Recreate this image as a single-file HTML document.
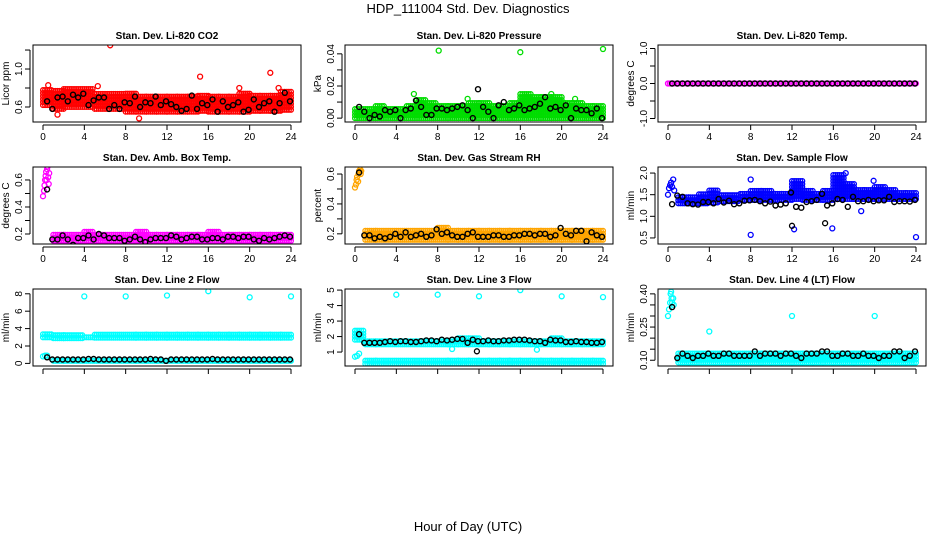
<!DOCTYPE html>
<html><head><meta charset="utf-8">
<style>
html,body{margin:0;padding:0;background:#fff;}
svg{display:block;font-family:"Liberation Sans",Arial,sans-serif;}
</style></head>
<body>
<svg id="chart" width="936" height="540" viewBox="0 0 936 540" xmlns="http://www.w3.org/2000/svg">
<text x="468" y="13" text-anchor="middle" font-size="13">HDP_111004  Std. Dev. Diagnostics</text>
<text x="468" y="531" text-anchor="middle" font-size="13">Hour of Day (UTC)</text>
<g id="plots"></g>
</svg>
<script>
// ---------- data ----------
const xTicks = [0,4,8,12,16,20,24];
const xTickLabels = ["0","4","8","12","16","20","24"];

const co2Lo = [0.62,0.58,0.60,0.60,0.60,0.58,0.58,0.58,0.55,0.55,0.55,0.55,0.55,0.55,0.55,0.56,0.55,0.55,0.55,0.55,0.56,0.56,0.56,0.57];
const co2Hi = [0.78,0.80,0.80,0.80,0.80,0.76,0.76,0.74,0.74,0.72,0.72,0.72,0.72,0.72,0.72,0.72,0.72,0.72,0.72,0.74,0.74,0.74,0.74,0.76];
const co2Black = [0.66,0.58,0.70,0.71,0.66,0.73,0.70,0.74,0.62,0.67,0.70,0.70,0.58,0.62,0.58,0.65,0.64,0.71,0.60,0.65,0.64,0.71,0.62,0.66,0.63,0.60,0.56,0.58,0.72,0.58,0.64,0.62,0.68,0.55,0.66,0.60,0.62,0.65,0.55,0.57,0.68,0.60,0.64,0.66,0.55,0.64,0.75,0.66];
const co2Out = [[6.5,1.25],[15.2,0.92],[22,0.96],[9.3,0.48],[1.4,0.52],[0.5,0.83],[19,0.8],[22.8,0.8],[5.3,0.82]];

const presLo = [0,0,0,0,0,0,0,0,0,0,0,0,0,0,0,0,0,0,0,0,0,0,0,0];
const presHi = [0.007,0.007,0.008,0.007,0.006,0.009,0.012,0.010,0.009,0.008,0.009,0.010,0.010,0.008,0.008,0.010,0.016,0.014,0.014,0.014,0.010,0.010,0.009,0.008];
const presBlack = [0.007,0.004,0.0,0.002,0.001,0.005,0.004,0.005,0.0,0.005,0.006,0.011,0.007,0.002,0.002,0.006,0.006,0.005,0.006,0.007,0.008,0.005,0.0,0.018,0.007,0.004,0.0,0.008,0.010,0.005,0.006,0.008,0.005,0.006,0.007,0.009,0.013,0.006,0.007,0.005,0.008,0.0,0.006,0.005,0.005,0.003,0.006,0.0];
const presOut = [[8.1,0.042],[16,0.041],[24,0.043],[5.7,0.015],[10.9,0.012],[21.3,0.012],[19,0.015]];

const tempLo = [0,0,0,0,0,0,0,0,0,0,0,0,0,0,0,0,0,0,0,0,0,0,0,0];
const tempHi = [0,0,0,0,0,0,0,0,0,0,0,0,0,0,0,0,0,0,0,0,0,0,0,0];
const tempBlack = [0,0,0,0,0,0,0,0,0,0,0,0,0,0,0,0,0,0,0,0,0,0,0,0,0,0,0,0,0,0,0,0,0,0,0,0,0,0,0,0,0,0,0,0,0,0,0,0];
const tempOut = [[0,0],[0.2,0]];

const ambLo = [null,0.15,0.15,0.15,0.15,0.15,0.15,0.15,0.15,0.15,0.15,0.15,0.15,0.15,0.15,0.15,0.15,0.15,0.15,0.15,0.15,0.15,0.15,0.15];
const ambHi = [null,0.21,0.21,0.21,0.22,0.21,0.21,0.21,0.21,0.22,0.21,0.21,0.21,0.21,0.21,0.21,0.22,0.21,0.21,0.21,0.21,0.21,0.21,0.21];
const ambBlack = [0.53,0.16,0.16,0.19,0.16,0.12,0.17,0.17,0.19,0.16,0.20,0.19,0.17,0.17,0.17,0.15,0.16,0.18,0.16,0.14,0.16,0.17,0.17,0.17,0.19,0.18,0.16,0.17,0.18,0.18,0.16,0.16,0.17,0.17,0.16,0.18,0.18,0.17,0.18,0.18,0.16,0.15,0.17,0.16,0.17,0.18,0.19,0.18];
const ambOut = [[0,0.48],[0.1,0.52],[0.15,0.56],[0.2,0.6],[0.25,0.63],[0.3,0.66],[0.35,0.6],[0.4,0.68],[0.45,0.7],[0.5,0.62],[0.55,0.57],[0.6,0.65]];

const rhLo = [null,0.16,0.16,0.16,0.16,0.16,0.16,0.16,0.16,0.16,0.16,0.16,0.16,0.16,0.16,0.16,0.16,0.16,0.16,0.16,0.16,0.16,0.16,0.16];
const rhHi = [null,0.22,0.22,0.23,0.23,0.22,0.22,0.23,0.24,0.23,0.23,0.22,0.22,0.22,0.22,0.22,0.22,0.22,0.22,0.22,0.23,0.23,0.23,0.22];
const rhBlack = [0.61,0.19,0.19,0.17,0.18,0.17,0.18,0.20,0.18,0.21,0.18,0.19,0.20,0.18,0.19,0.23,0.20,0.21,0.19,0.18,0.18,0.20,0.21,0.18,0.18,0.18,0.19,0.19,0.18,0.18,0.19,0.19,0.20,0.20,0.19,0.20,0.20,0.18,0.19,0.24,0.20,0.19,0.22,0.22,0.15,0.21,0.19,0.18];
const rhOut = [[0,0.51],[0.1,0.53],[0.15,0.56],[0.2,0.58],[0.3,0.55],[0.35,0.6],[0.4,0.62],[0.5,0.63],[0.55,0.6],[0.6,0.62]];

const flowLo = [null,1.30,1.30,1.30,1.32,1.35,1.35,1.38,1.38,1.38,1.38,1.38,1.40,1.38,1.38,1.38,1.40,1.40,1.40,1.40,1.40,1.40,1.40,1.40];
const flowHi = [null,1.50,1.50,1.55,1.60,1.55,1.55,1.55,1.60,1.60,1.55,1.58,1.85,1.65,1.55,1.60,2.00,1.80,1.65,1.65,1.70,1.65,1.58,1.55];
const flowBlack = [1.28,1.48,1.45,1.30,1.28,1.27,1.33,1.33,1.30,1.40,1.32,1.36,1.28,1.30,1.36,1.37,1.38,1.35,1.30,1.34,1.25,1.27,1.30,1.55,1.22,1.20,1.33,1.35,1.38,1.52,1.25,1.30,1.40,1.38,1.22,1.45,1.35,1.35,1.38,1.35,1.37,1.37,1.45,1.33,1.35,1.35,1.34,1.38];
const flowOut = [[0,1.5],[0.1,1.65],[0.2,1.72],[0.3,1.78],[0.4,1.68],[0.5,1.85],[0.6,1.6],[8,0.57],[24,0.52],[12.2,0.7],[15.9,0.72],[8,1.85],[18.7,1.12],[17.2,2.0],[19.9,1.82],[12,0.78,1],[15.2,0.84,1]];

const l2UpLo = [3.0,2.9,2.9,2.9,3.0,2.95,2.95,2.95,2.95,2.95,2.95,2.95,2.95,2.95,2.95,2.95,2.95,2.95,2.95,2.95,2.95,2.95,2.95,2.95];
const l2UpHi = [3.5,3.3,3.3,3.5,3.3,3.3,3.3,3.3,3.3,3.3,3.3,3.3,3.3,3.3,3.3,3.4,3.3,3.3,3.3,3.3,3.3,3.3,3.3,3.3];
const l2LoLo = [null,0.3,0.3,0.3,0.3,0.3,0.3,0.3,0.3,0.3,0.3,0.3,0.3,0.3,0.3,0.3,0.3,0.3,0.3,0.3,0.3,0.3,0.3,0.3];
const l2LoHi = [null,0.6,0.6,0.6,0.6,0.6,0.6,0.6,0.6,0.6,0.6,0.6,0.6,0.6,0.6,0.6,0.6,0.6,0.6,0.6,0.6,0.6,0.6,0.6];
const l2Black = [0.7,0.45,0.45,0.45,0.45,0.45,0.45,0.45,0.5,0.5,0.45,0.45,0.45,0.45,0.45,0.45,0.45,0.45,0.45,0.45,0.5,0.45,0.45,0.3,0.45,0.45,0.45,0.45,0.45,0.45,0.45,0.45,0.5,0.45,0.45,0.45,0.45,0.45,0.45,0.45,0.45,0.45,0.45,0.45,0.45,0.45,0.45,0.45];
const l2Out = [[4,7.7],[8,7.7],[12,7.8],[16,8.3],[20,7.6],[24,7.7],[0,0.8],[0.2,0.9],[0.4,0.9]];

const l3UpLo = [1.8,1.5,1.5,1.5,1.5,1.5,1.5,1.5,1.5,1.5,1.5,1.5,1.5,1.5,1.5,1.5,1.5,1.5,1.5,1.5,1.5,1.5,1.5,1.5];
const l3UpHi = [2.5,1.8,1.8,1.8,1.85,1.8,1.8,1.8,1.8,1.85,1.9,2.0,1.85,1.8,1.8,1.85,1.85,1.85,1.85,2.0,1.85,1.85,1.8,1.8];
const l3LoLo = [null,0.25,0.25,0.25,0.25,0.25,0.25,0.25,0.25,0.25,0.25,0.25,0.25,0.25,0.25,0.25,0.25,0.25,0.25,0.25,0.25,0.25,0.25,0.25];
const l3LoHi = [null,0.45,0.45,0.45,0.45,0.45,0.45,0.45,0.45,0.45,0.45,0.45,0.45,0.45,0.45,0.45,0.45,0.45,0.45,0.45,0.45,0.45,0.45,0.45];
const l3Black = [2.15,1.6,1.6,1.6,1.6,1.65,1.7,1.65,1.7,1.7,1.65,1.65,1.7,1.75,1.75,1.7,1.8,1.75,1.8,1.85,1.85,1.6,1.8,1.7,1.7,1.75,1.7,1.7,1.75,1.75,1.8,1.8,1.8,1.75,1.7,1.7,1.6,1.8,1.75,1.75,1.65,1.65,1.7,1.65,1.65,1.6,1.6,1.65];
const l3Out = [[4,4.7],[8,4.7],[12,4.6],[16,5.0],[20,4.6],[24,4.55],[0,0.7],[0.2,0.75],[0.4,0.9],[11.8,1.05,1],[9.4,1.2],[17.6,1.15]];

const l4Lo = [null,0.09,0.09,0.09,0.09,0.09,0.09,0.09,0.09,0.09,0.09,0.09,0.09,0.09,0.09,0.09,0.09,0.09,0.09,0.09,0.09,0.09,0.09,0.09];
const l4Hi = [null,0.14,0.14,0.14,0.14,0.14,0.14,0.14,0.14,0.14,0.14,0.14,0.14,0.14,0.14,0.14,0.14,0.14,0.14,0.14,0.14,0.14,0.14,0.14];
const l4Black = [0.34,0.11,0.13,0.12,0.11,0.12,0.12,0.13,0.12,0.12,0.13,0.13,0.12,0.12,0.12,0.12,0.14,0.12,0.13,0.13,0.13,0.12,0.13,0.13,0.12,0.11,0.13,0.13,0.13,0.14,0.14,0.12,0.12,0.13,0.13,0.12,0.12,0.13,0.12,0.12,0.11,0.12,0.12,0.14,0.14,0.11,0.12,0.14];
const l4Out = [[0,0.3],[0.1,0.33],[0.2,0.36],[0.25,0.4],[0.3,0.41],[0.35,0.38],[0.4,0.36],[0.5,0.38],[0.55,0.35],[4,0.23],[12,0.3],[20,0.3]];

const panels = [
 {name:"co2", title:"Stan. Dev. Li-820 CO2", ylab:"Licor ppm", col:0,row:0, ymin:0.442,ymax:1.253, ticks:[0.6,0.8,1.0,1.2], labels:["0.6","","1.0",""], color:"#ff0000", bands:[[co2Lo,co2Hi]], black:co2Black, out:co2Out},
 {name:"pressure", title:"Stan. Dev. Li-820 Pressure", ylab:"kPa", col:1,row:0, ymin:-0.0024,ymax:0.0455, ticks:[0,0.01,0.02,0.03,0.04], labels:["0.00","","0.02","","0.04"], color:"#00dd00", bands:[[presLo,presHi]], black:presBlack, out:presOut},
 {name:"temp", title:"Stan. Dev. Li-820 Temp.", ylab:"degrees C", col:2,row:0, ymin:-1.1,ymax:1.1, ticks:[-1,-0.5,0,0.5,1], labels:["-1.0","","0.0","","1.0"], color:"#ff00ff", bands:[[tempLo,tempHi]], black:tempBlack, out:tempOut},
 {name:"amb-temp", title:"Stan. Dev. Amb. Box Temp.", ylab:"degrees C", col:0,row:1, ymin:0.126,ymax:0.696, ticks:[0.2,0.3,0.4,0.5,0.6], labels:["0.2","","0.4","","0.6"], color:"#ff00ff", bands:[[ambLo,ambHi]], black:ambBlack, out:ambOut},
 {name:"gas-rh", title:"Stan. Dev. Gas Stream RH", ylab:"percent", col:1,row:1, ymin:0.132,ymax:0.647, ticks:[0.2,0.3,0.4,0.5,0.6], labels:["0.2","","0.4","","0.6"], color:"#ffa500", bands:[[rhLo,rhHi]], black:rhBlack, out:rhOut},
 {name:"sample-flow", title:"Stan. Dev. Sample Flow", ylab:"ml/min", col:2,row:1, ymin:0.36,ymax:2.14, ticks:[0.5,1.0,1.5,2.0], labels:["0.5","1.0","1.5","2.0"], color:"#0000ff", bands:[[flowLo,flowHi]], black:flowBlack, out:flowOut},
 {name:"line2-flow", title:"Stan. Dev. Line 2 Flow", ylab:"ml/min", col:0,row:2, ymin:-0.3,ymax:8.55, ticks:[0,2,4,6,8], labels:["0","2","4","6","8"], color:"#00ffff", bands:[[l2UpLo,l2UpHi],[l2LoLo,l2LoHi]], black:l2Black, out:l2Out},
 {name:"line3-flow", title:"Stan. Dev. Line 3 Flow", ylab:"ml/min", col:1,row:2, ymin:0.1,ymax:5.07, ticks:[1,2,3,4,5], labels:["1","2","3","4","5"], color:"#00ffff", bands:[[l3UpLo,l3UpHi],[l3LoLo,l3LoHi]], black:l3Black, out:l3Out},
 {name:"line4-flow", title:"Stan. Dev. Line 4 (LT) Flow", ylab:"ml/min", col:2,row:2, ymin:0.074,ymax:0.422, ticks:[0.10,0.15,0.20,0.25,0.30,0.35,0.40], labels:["0.10","","","0.25","","","0.40"], color:"#00ffff", bands:[[l4Lo,l4Hi]], black:l4Black, out:l4Out}
];

// ---------- layout ----------
const colX = [33,345,658];
const rowY = [45,167,289];
const W = 268, H = 77;
const NS = "http://www.w3.org/2000/svg";
const root = document.getElementById('plots');
function mk(tag, attrs, parent){
  const e = document.createElementNS(NS, tag);
  for (const k in attrs) e.setAttribute(k, attrs[k]);
  parent.appendChild(e);
  return e;
}

panels.forEach(p => {
  const x0 = colX[p.col], y0 = rowY[p.row];
  const xs = v => x0 + 10 + v/24*(W-20);
  const ys = v => y0 + H - (v - p.ymin)/(p.ymax - p.ymin)*H;
  const g = mk('g', {}, root);
  
  

  const t = mk('text', {x: x0 + W/2, y: y0 - 6, 'text-anchor':'middle', 'font-size':'10', 'font-weight':'bold'}, g);
  t.textContent = p.title;
  
  

  // clip
  const cid = 'clip-' + p.name;
  const cp = mk('clipPath', {id: cid}, g);
  mk('rect', {x: x0, y: y0, width: W, height: H}, cp);
  const marks = mk('g', {'clip-path': 'url(#' + cid + ')', fill: 'none'}, g);
  
  

  // colored bands
  const cg = mk('g', {stroke: p.color, 'stroke-width': '1.3'}, marks);
  p.bands.forEach(b => {
    const lo = b[0], hi = b[1];
    for (let h = 0; h < lo.length; h++) {
      if (lo[h] === null) continue;
      const yA = ys(lo[h]), yB = ys(hi[h]);
      for (let x = h; x < h + 1; x += 0.2) {
        let yy = yA;
        do {
          mk('circle', {cx: xs(x).toFixed(1), cy: yy.toFixed(1), r: 2.4}, cg);
          yy -= 3;
        } while (yy >= yB - 0.1);
      }
    }
  });
  p.out.forEach(o => {
    const c = mk('circle', {cx: xs(o[0]).toFixed(1), cy: ys(o[1]).toFixed(1), r: 2.5, stroke: o[2] ? '#000' : p.color, 'stroke-width': '1.3'}, marks);
  });
  // black points
  const bg = mk('g', {stroke: '#000', 'stroke-width': '1.4'}, marks);
  p.black.forEach((v, i) => {
    mk('circle', {cx: xs(0.5*(i+1) - 0.1).toFixed(1), cy: ys(v).toFixed(1), r: 2.5}, bg);
  });

  // box
  mk('rect', {x: x0, y: y0, width: W, height: H, fill: 'none', stroke: '#000', 'stroke-width': '1'}, g);

  // x axis
  const xa = mk('g', {}, g);
  
  
  const yb = y0 + H;
  mk('line', {x1: xs(0), x2: xs(24), y1: yb + 3, y2: yb + 3, stroke: '#000'}, xa);
  xTicks.forEach((v, i) => {
    mk('line', {x1: xs(v), x2: xs(v), y1: yb + 3, y2: yb + 8, stroke: '#000'}, xa);
    if (p.row < 2 || true) {
      const tx = mk('text', {x: xs(v), y: yb + 18, 'text-anchor': 'middle', 'font-size': '10'}, xa);
      tx.textContent = p.row < 2 ? xTickLabels[i] : '';
    }
  });

  // y axis
  const ya = mk('g', {}, g);
  
  
  mk('line', {x1: x0 - 3, x2: x0 - 3, y1: ys(p.ticks[0]), y2: ys(p.ticks[p.ticks.length-1]), stroke: '#000'}, ya);
  p.ticks.forEach((v, i) => {
    mk('line', {x1: x0 - 8, x2: x0 - 3, y1: ys(v), y2: ys(v), stroke: '#000'}, ya);
    if (p.labels[i]) {
      const tl = mk('text', {x: x0 - 11, y: ys(v), 'text-anchor': 'middle', 'font-size': '10', transform: 'rotate(-90 ' + (x0 - 11) + ' ' + ys(v) + ')'}, ya);
      tl.textContent = p.labels[i];
    }
  });
  const yl = mk('text', {x: x0 - 24, y: y0 + H/2, 'text-anchor': 'middle', 'font-size': '10', transform: 'rotate(-90 ' + (x0 - 24) + ' ' + (y0 + H/2) + ')'}, g);
  yl.textContent = p.ylab;
  
  
});
</script>
</body></html>
